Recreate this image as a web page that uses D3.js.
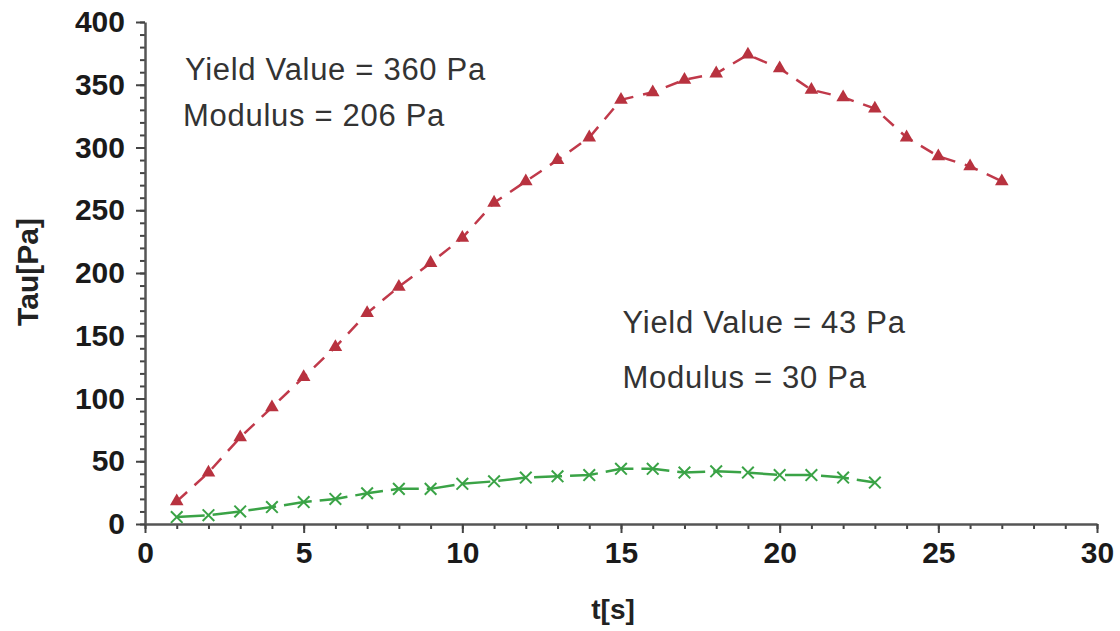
<!DOCTYPE html>
<html>
<head>
<meta charset="utf-8">
<script src="https://cdn.jsdelivr.net/npm/d3@7"></script>
<style>
  body { margin: 0; background: #fff; }
  text { font-family: "Liberation Sans", Arial, sans-serif; }
</style>
</head>
<body>
<div id="chart"></div>
<script>
// data
let timeA = [1,2,3,4,5,6,7,8,9,10,11,12,13,14,15,16,17,18,19,20,21,22,23,24,25,26,27];
let tauA = [18,41,69,93,117,141,168,189,208,228,256,273,290,308,338,344,354,359,374,363,346,340,331,308,293,285,273];
let timeB = [1,2,3,4,5,6,7,8,9,10,11,12,13,14,15,16,17,18,19,20,21,22,23];
let tauB = [5.5,7,10,13.5,17.5,20,24.5,28,28,32,34,37,38,39,44,44,41,42,41,39,39,37,33];
let xTicks = [0,5,10,15,20,25,30];
let yTicks = [0,50,100,150,200,250,300,350,400];
let notes = [
    {x: 1.26, y: 354, text: 'Yield Value = 360 Pa'},
    {x: 1.2, y: 317, text: 'Modulus = 206 Pa'},
    {x: 15.05, y: 152, text: 'Yield Value = 43 Pa'},
    {x: 15.05, y: 108, text: 'Modulus = 30 Pa'}
];

let width = 1120,
    height = 631;

let svg = d3.select('#chart')
    .append('svg')
    .attr('width', width)
    .attr('height', height);

let xScale = d3.scaleLinear().domain([0, 30]).range([145, 1097]);
let yScale = d3.scaleLinear().domain([0, 400]).range([524, 22]);

//#region axes
// minor ticks first, then the labelled ones
svg.append('g')
    .attr('transform', 'translate(0,524)')
    .call(d3.axisBottom(xScale).tickValues(d3.range(0, 31, 1)).tickSize(5).tickFormat(''))
    .call(g => g.select('.domain').remove());

svg.append('g')
    .attr('transform', 'translate(0,524)')
    .call(d3.axisBottom(xScale).tickValues(xTicks).tickSize(9).tickSizeOuter(0).tickPadding(9))
    .call(g => g.selectAll('text')
        .attr('font-size', 30)
        .attr('font-weight', 'bold')
        .attr('fill', '#1a1a1a'));

svg.append('g')
    .attr('transform', 'translate(145,0)')
    .call(d3.axisLeft(yScale).tickValues(d3.range(0, 401, 10)).tickSize(5).tickFormat(''))
    .call(g => g.select('.domain').remove());

svg.append('g')
    .attr('transform', 'translate(145,0)')
    .call(d3.axisLeft(yScale).tickValues(yTicks).tickSize(9).tickSizeOuter(0).tickPadding(11))
    .call(g => g.selectAll('text')
        .attr('font-size', 30)
        .attr('font-weight', 'bold')
        .attr('fill', '#1a1a1a'));

svg.selectAll('.domain').attr('stroke', '#555').attr('stroke-width', 2.5);
svg.selectAll('.tick line').attr('stroke', '#444').attr('stroke-width', 2);

svg.append('text')
    .attr('transform', 'translate(38,272) rotate(-90)')
    .attr('text-anchor', 'middle')
    .attr('font-size', 30)
    .attr('font-weight', 'bold')
    .attr('fill', '#222')
    .text('Tau[Pa]');

svg.append('text')
    .attr('x', xScale(14.75))
    .attr('y', 619)
    .attr('text-anchor', 'middle')
    .attr('font-size', 28)
    .attr('font-weight', 'bold')
    .attr('fill', '#222')
    .text('t[s]');
//#endregion

//#region series
let lineA = d3.line()
    .x((d, i) => xScale(timeA[i]))
    .y(d => yScale(d));

svg.append('path')
    .datum(tauA)
    .attr('d', lineA)
    .attr('fill', 'none')
    .attr('stroke', '#c0394a')
    .attr('stroke-width', 2.5)
    .attr('stroke-dasharray', '14,10');

svg.selectAll('.triangle')
    .data(tauA)
    .enter()
    .append('path')
    .attr('class', 'triangle')
    .attr('d', d3.symbol().type(d3.symbolTriangle).size(80))
    .attr('transform', (d, i) => `translate(${xScale(timeA[i])},${yScale(d)})`)
    .attr('fill', '#b8323f');

let lineB = d3.line()
    .x((d, i) => xScale(timeB[i]))
    .y(d => yScale(d));

svg.append('path')
    .datum(tauB)
    .attr('d', lineB)
    .attr('fill', 'none')
    .attr('stroke', '#3aa346')
    .attr('stroke-width', 2.5)
    .attr('stroke-dasharray', '28,8');

svg.selectAll('.cross')
    .data(tauB)
    .enter()
    .append('path')
    .attr('class', 'cross')
    .attr('d', d3.symbol().type(d3.symbolX).size(90))
    .attr('transform', (d, i) => `translate(${xScale(timeB[i])},${yScale(d)})`)
    .attr('fill', 'none')
    .attr('stroke', '#3aa346')
    .attr('stroke-width', 2);
//#endregion

//#region annotations
svg.selectAll('.note')
    .data(notes)
    .enter()
    .append('text')
    .attr('class', 'note')
    .attr('x', d => xScale(d.x))
    .attr('y', d => yScale(d.y))
    .attr('font-size', 31)
    .attr('letter-spacing', 0.7)
    .attr('fill', '#333')
    .text(d => d.text);
//#endregion
</script>
</body>
</html>
